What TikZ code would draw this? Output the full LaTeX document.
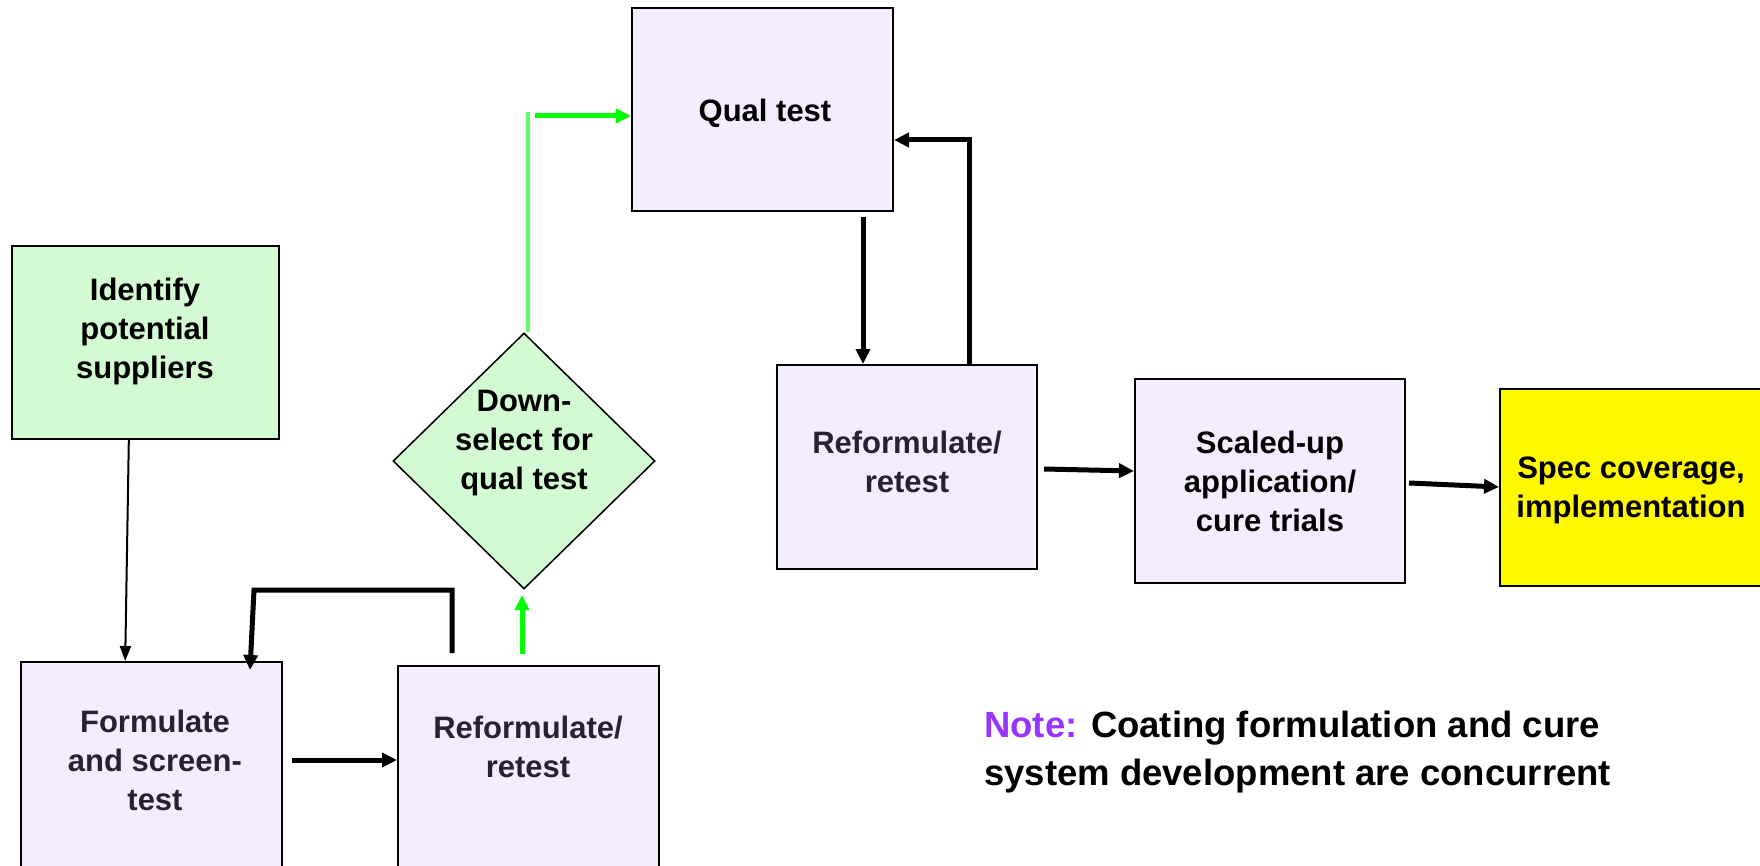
\documentclass[tikz,border=0pt]{standalone}
\usepackage{fontspec}
\setmainfont{Liberation Sans}
\usetikzlibrary{shapes.geometric,arrows.meta,calc}
\definecolor{lav}{RGB}{245,237,255}
\definecolor{lgreen}{RGB}{211,250,211}
\definecolor{ylw}{RGB}{255,248,0}
\definecolor{notepurple}{RGB}{153,51,255}
\definecolor{dtext}{RGB}{42,32,52}
\definecolor{brightgreen}{RGB}{0,255,0}
\definecolor{softgreen}{RGB}{100,255,100}
\tikzset{
  box/.style={draw=black, line width=2pt, rectangle, inner sep=0pt},
  lavbox/.style={box, fill=lav},
  lbl/.style={align=center, font=\fontsize{31}{39}\selectfont\bfseries, inner sep=0pt},
  blk/.style={line width=5pt, -{Triangle[length=15pt,width=14pt]}},
  thinarr/.style={line width=2pt, -{Triangle[length=15pt,width=11pt]}},
  grn/.style={line width=5pt, brightgreen, -{Triangle[length=15pt,width=14pt]}},
}
\begin{document}
\begin{tikzpicture}[x=1pt,y=-1pt]
\useasboundingbox (0,0) rectangle (1760,866);
% boxes
\node[box, fill=lgreen, minimum width=267pt, minimum height=193pt] (identify) at (145.5,342.5) {};
\node[lbl] (identify-t) at (145,331) {Identify\\potential\\suppliers};
\node[lavbox, minimum width=261pt, minimum height=206pt] (formulate) at (151.5,765) {};
\node[lbl, text=dtext] (formulate-t) at (155,760) {Formulate\\and screen-\\test};
\node[lavbox, minimum width=261pt, minimum height=202pt] (ref1) at (528.5,767) {};
\node[lbl, text=dtext] (ref1-t) at (528,747) {Reformulate/\\retest};
\node[diamond, draw=black, line width=1.5pt, fill=lgreen, minimum width=262pt, minimum height=256pt, inner sep=0pt] (diamond) at (524,461) {};
\node[lbl] (diamond-t) at (524,443) {Down-\\select for\\qual test};
\node[lavbox, minimum width=261pt, minimum height=203pt] (qual) at (762.5,109.5) {};
\node[lbl] (qual-t) at (765,113) {Qual test};
\node[lavbox, minimum width=260pt, minimum height=204pt] (ref2) at (907,467) {};
\node[lbl, text=dtext] (ref2-t) at (907,462) {Reformulate/\\retest};
\node[lavbox, minimum width=270pt, minimum height=204pt] (scaled) at (1270,481) {};
\node[lbl] (scaled-t) at (1270,481) {Scaled-up\\application/\\cure trials};
\node[box, fill=ylw, minimum width=264pt, minimum height=197pt] (spec) at (1632,487.5) {};
\node[lbl] (spec-t) at (1631,490) {Spec coverage,\\implementation};
\node[align=left, anchor=base west, inner sep=0pt, font=\fontsize{36.5}{48}\selectfont\bfseries] (note) at (984,785) {\textcolor{notepurple}{Note:} Coating formulation and cure\\system development are concurrent};
% connector coordinates
\coordinate (c1) at ($(identify.south west)!0.438!(identify.south east)$);
\coordinate (c1e) at ($(formulate.north west)!0.40!(formulate.north east)$);
\coordinate (l1s) at (452,653);
\coordinate (l1c) at (254,590);
\coordinate (l1e) at (250,670);
\coordinate (f2r) at (292,760);
\coordinate (g1s) at (522,654);
\coordinate (g1e) at (522,595);
\coordinate (gtop) at (528,112);
\coordinate (g2s) at (535,116);
\coordinate (q2s) at (863,217);
\coordinate (r2l) at (969,365);
\coordinate (r2c) at (969,140);
\coordinate (r2s) at (1044,469);
\coordinate (s2s) at (1409,483);
% connectors
\draw[thinarr] (c1) -- (c1e);
\draw[blk] (l1s) |- (l1c) -- (l1e);
\draw[blk] (f2r) -- (f2r -| ref1.west);
\draw[grn] (g1s) -- (g1e);
\draw[line width=4pt, softgreen] (diamond.north -| gtop) -- (gtop);
\draw[grn] (g2s) -- (g2s -| qual.west);
\draw[blk] (q2s) -- (q2s |- ref2.north);
\draw[blk] (r2l) -- (r2c) -- (r2c -| qual.east);
\draw[blk] (r2s) -- ([yshift=-2pt]r2s -| scaled.west);
\draw[blk] (s2s) -- ([yshift=-4pt]s2s -| spec.west);
\end{tikzpicture}
\end{document}
